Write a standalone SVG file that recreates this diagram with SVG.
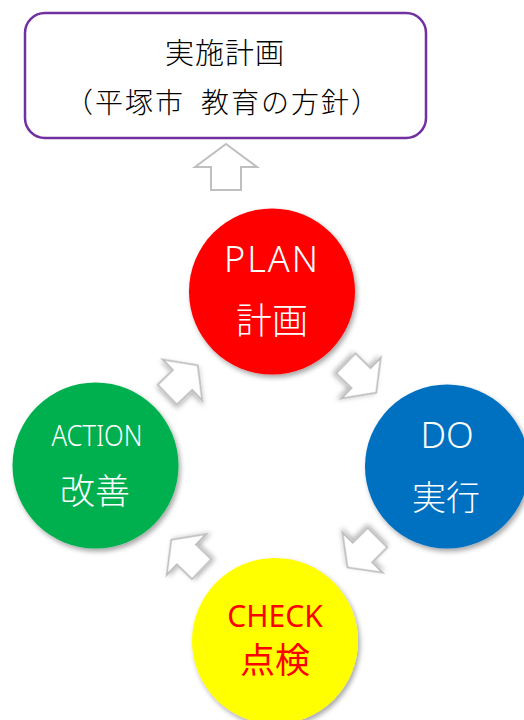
<svg xmlns="http://www.w3.org/2000/svg" width="524" height="720" viewBox="0 0 524 720">
<defs>
<style>
.jp{font-family:"Noto Sans CJK JP","Noto Sans",sans-serif;}
.lat{font-family:"Noto Sans","Noto Sans CJK JP",sans-serif;}
.arr{fill:#ffffff;stroke:#bfbfbf;stroke-width:2;stroke-linejoin:miter;}
</style>
<filter id="cs" x="-20%" y="-20%" width="150%" height="150%">
<feDropShadow dx="2" dy="3" stdDeviation="2.5" flood-color="#000" flood-opacity="0.35"/>
</filter>
<filter id="as" x="-50%" y="-50%" width="200%" height="200%">
<feDropShadow dx="2" dy="2" stdDeviation="3" flood-color="#000" flood-opacity="0.3"/>
</filter>
<polygon id="blk" points="0,-23 31,0 15,0 15,23 -15,23 -15,0 -31,0"/>
</defs>
<rect width="524" height="720" fill="#ffffff"/>

<g id="plan-box">
<rect x="25" y="13" width="401" height="125" rx="20" fill="#ffffff" stroke="#7030A0" stroke-width="2.5"/>
<text class="jp" x="225" y="64" font-size="29" font-weight="300" text-anchor="middle" fill="#000" letter-spacing="1">実施計画</text>
<text class="jp" x="222" y="113" font-size="28" font-weight="300" text-anchor="middle" fill="#000" textLength="314" lengthAdjust="spacing">（平塚市&#x2002;教育の方針）</text>
</g>

<g id="connectors">
<use href="#blk" class="arr" transform="translate(226,167)"/>
<use href="#blk" class="arr" filter="url(#as)" transform="translate(361,378) rotate(134) scale(0.92)"/>
<use href="#blk" class="arr" filter="url(#as)" transform="translate(362.5,552.5) rotate(225) scale(0.92)"/>
<use href="#blk" class="arr" filter="url(#as)" transform="translate(186.5,554.5) rotate(-46) scale(0.92)"/>
<use href="#blk" class="arr" filter="url(#as)" transform="translate(182.5,380) rotate(46) scale(0.92)"/>
</g>

<g id="plan">
<circle cx="272" cy="291.5" r="83" fill="#ff0000" filter="url(#cs)"/>
<text class="lat" x="272" y="272" font-size="36" font-weight="300" text-anchor="middle" fill="#fff" letter-spacing="2">PLAN</text>
<text class="jp" x="272" y="334" font-size="36" font-weight="300" text-anchor="middle" fill="#fff">計画</text>
</g>

<g id="do">
<circle cx="447" cy="466.5" r="82" fill="#0070C0" filter="url(#cs)"/>
<text class="lat" x="447" y="448" font-size="36" font-weight="300" text-anchor="middle" fill="#fff">DO</text>
<text class="jp" x="446" y="510" font-size="34" font-weight="300" text-anchor="middle" fill="#fff">実行</text>
</g>

<g id="check">
<circle cx="275" cy="641" r="83" fill="#ffff00" filter="url(#cs)"/>
<text class="lat" x="275" y="627" font-size="30" text-anchor="middle" fill="#ff0000">CHECK</text>
<text class="jp" x="275" y="673" font-size="35" text-anchor="middle" fill="#ff0000">点検</text>
</g>

<g id="action">
<circle cx="95.5" cy="465.5" r="83" fill="#00B050" filter="url(#cs)"/>
<text class="lat" x="97" y="446" font-size="29" font-weight="300" text-anchor="middle" fill="#fff" textLength="91" lengthAdjust="spacingAndGlyphs">ACTION</text>
<text class="jp" x="95" y="504" font-size="35" font-weight="300" text-anchor="middle" fill="#fff">改善</text>
</g>
</svg>
